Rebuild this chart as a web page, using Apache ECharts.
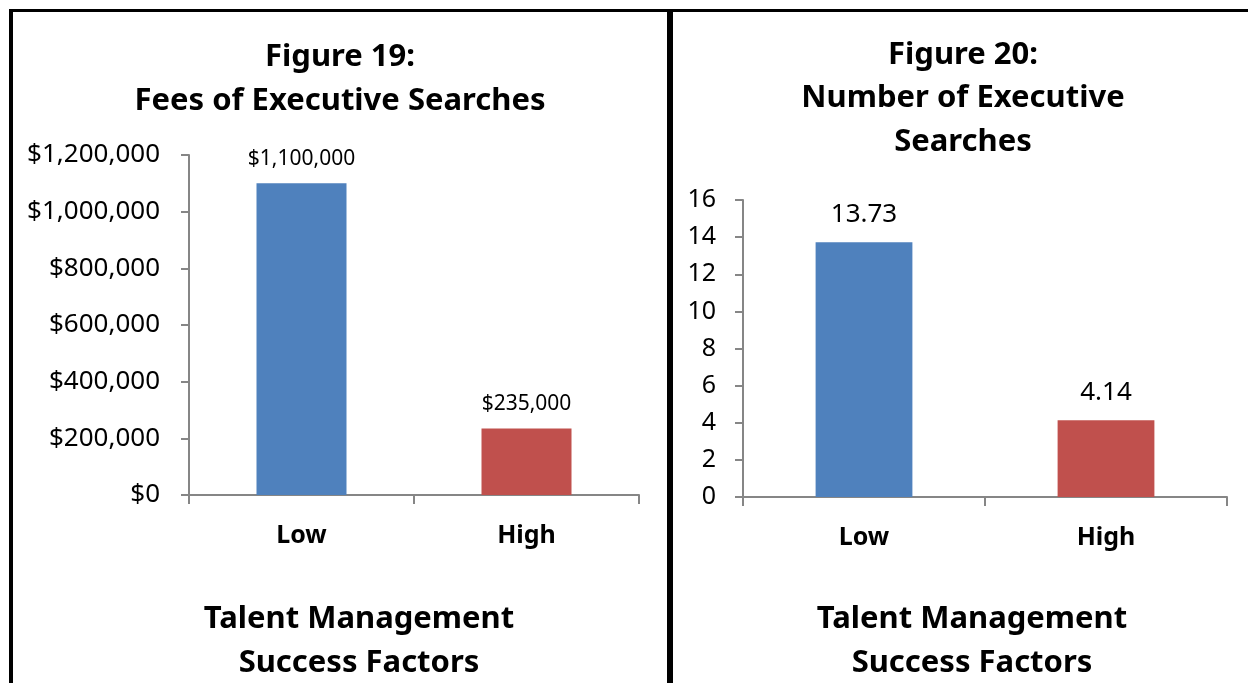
<!DOCTYPE html>
<html>
<head>
<meta charset="utf-8">
<script src="https://cdn.jsdelivr.net/npm/echarts@6/dist/echarts.min.js"></script>
<style>
  html, body { margin: 0; padding: 0; background: #fff; }
  #chart { width: 1248px; height: 683px; }
</style>
</head>
<body>
<div id="chart"></div>
<script>
// data
const categories = ["Low", "High"];
const feeValues = [1100000, 235000];
const searchValues = [13.73, 4.14];
const barColors = ["#4F81BD", "#C0504D"];
const feeTicks = { min: 0, max: 1200000, interval: 200000 };
const searchTicks = { min: 0, max: 16, interval: 2 };

const FONT = "'Noto Sans', sans-serif";
const money = v => "$" + Number(v).toLocaleString("en-US");

const chart = echarts.init(document.getElementById("chart"));

const axisGray = "#868686";
const catAxis = (gridIndex) => ({
  type: "category",
  gridIndex: gridIndex,
  data: categories,
  axisLine: { lineStyle: { color: axisGray, width: 2 } },
  axisTick: { show: true, length: 9, lineStyle: { color: axisGray, width: 2 } },
  axisLabel: { color: "#000", fontFamily: FONT, fontWeight: "bold", fontSize: 25, margin: 28 }
});
const valAxis = (gridIndex, ticks, fmt, fs, margin) => ({
  type: "value",
  gridIndex: gridIndex,
  min: ticks.min,
  max: ticks.max,
  interval: ticks.interval,
  splitLine: { show: false },
  axisLine: { show: true, lineStyle: { color: axisGray, width: 2 } },
  axisTick: { show: true, length: 8, lineStyle: { color: axisGray, width: 2 } },
  axisLabel: { color: "#000", fontFamily: FONT, fontSize: fs, margin: margin, formatter: fmt }
});

const titleStyle = { color: "#000", fontFamily: FONT, fontWeight: "bold", fontSize: 31, lineHeight: 44 };

chart.setOption({
  animation: false,
  backgroundColor: "#fff",
  title: [
    { text: "Figure 19:\nFees of Executive Searches", left: 340, top: 35, textAlign: "center", padding: 0, textStyle: titleStyle },
    { text: "Figure 20:\nNumber of Executive\nSearches", left: 963, top: 33, textAlign: "center", padding: 0, textStyle: Object.assign({}, titleStyle, { lineHeight: 43.5 }) },
    { text: "Talent Management\nSuccess Factors", left: 359, top: 597, textAlign: "center", padding: 0, textStyle: titleStyle },
    { text: "Talent Management\nSuccess Factors", left: 972, top: 597, textAlign: "center", padding: 0, textStyle: titleStyle }
  ],
  grid: [
    { left: 189, right: 609, top: 155, bottom: 188 },
    { left: 743, right: 21, top: 200, bottom: 186 }
  ],
  xAxis: [catAxis(0), catAxis(1)],
  yAxis: [
    valAxis(0, feeTicks, v => money(v), 26, 29),
    valAxis(1, searchTicks, v => String(v), 25, 27)
  ],
  series: [
    {
      type: "bar",
      xAxisIndex: 0,
      yAxisIndex: 0,
      barWidth: "40%",
      data: feeValues.map((v, i) => ({ value: v, itemStyle: { color: barColors[i] } })),
      label: {
        show: true, position: "top", distance: 14,
        color: "#000", fontFamily: FONT, fontSize: 21,
        formatter: p => money(p.value)
      }
    },
    {
      type: "bar",
      xAxisIndex: 1,
      yAxisIndex: 1,
      barWidth: "40%",
      data: searchValues.map((v, i) => ({ value: v, itemStyle: { color: barColors[i] } })),
      label: {
        show: true, position: "top", distance: 15,
        color: "#000", fontFamily: FONT, fontSize: 26,
        formatter: p => String(p.value)
      }
    }
  ],
  graphic: [
    { type: "rect", z: 100, shape: { x: 9, y: 9, width: 1239, height: 3 }, style: { fill: "#000" } },
    { type: "rect", z: 100, shape: { x: 9, y: 9, width: 4, height: 674 }, style: { fill: "#000" } },
    { type: "rect", z: 100, shape: { x: 667, y: 9, width: 6, height: 674 }, style: { fill: "#000" } }
  ]
});
</script>
</body>
</html>
